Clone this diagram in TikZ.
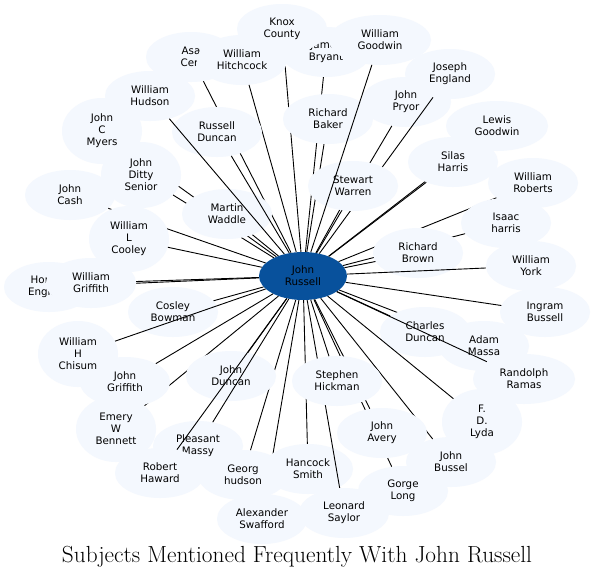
\documentclass[tikz,border=0pt]{standalone}
\usepackage{fontspec}
\setsansfont{DejaVu Sans}
\usetikzlibrary{shapes.geometric}
\definecolor{subjfill}{RGB}{244,248,254}
\definecolor{hubfill}{RGB}{8,81,156}
\tikzset{
  subj/.style={ellipse, fill=subjfill, inner sep=0pt, minimum width=90, minimum height=50,
    align=center, font=\sffamily\fontsize{10.3}{12}\selectfont},
  tall/.style={minimum width=80, minimum height=66},
  wide/.style={minimum width=102},
  hub/.style={subj, fill=hubfill, minimum width=88, minimum height=48},
  link/.style={line width=0.9pt}
}
\begin{document}
\begin{tikzpicture}[x=1pt,y=-1pt]
	\useasboundingbox[fill=white] (0,0) rectangle (594,581);
	\node[hub] (jr) at (303,276) {John\\Russell};
	\node[subj] (asa) at (191,57) {Asa\\Cerl}; \draw[link] (jr) -- (asa);
	\node[subj] (jb) at (326,52) {James\\Bryant}; \draw[link] (jr) -- (jb);
	\node[subj] (knox) at (282,29) {Knox\\County}; \draw[link] (jr) -- (knox);
	\node[subj] (whi) at (242,60) {William\\Hitchcock}; \draw[link] (jr) -- (whi);
	\node[subj] (rba) at (328,119) {Richard\\Baker}; \draw[link] (jr) -- (rba);
	\node[subj] (jp) at (406,102) {John\\Pryor}; \draw[link] (jr) -- (jp);
	\node[subj] (je) at (450,74) {Joseph\\England}; \draw[link] (jr) -- (je);
	\node[subj] (sw) at (353,186) {Stewart\\Warren}; \draw[link] (jr) -- (sw);
	\node[subj,wide] (wg) at (380,40) {William\\Goodwin}; \draw[link] (jr) -- (wg);
	\node[subj,wide] (lg) at (497,126) {Lewis\\Goodwin}; \draw[link] (jr) -- (lg);
	\node[subj] (sh) at (453,162) {Silas\\Harris}; \draw[link] (jr) -- (sh);
	\node[subj] (wr) at (533,183) {William\\Roberts}; \draw[link] (jr) -- (wr);
	\node[subj] (ih) at (506,223) {Isaac\\harris}; \draw[link] (jr) -- (ih);
	\node[subj] (rbr) at (418,253) {Richard\\Brown}; \draw[link] (jr) -- (rbr);
	\node[subj] (wy) at (531,266) {William\\York}; \draw[link] (jr) -- (wy);
	\node[subj] (ib) at (545,312) {Ingram\\Bussell}; \draw[link] (jr) -- (ib);
	\node[subj] (am) at (484,346) {Adam\\Massa}; \draw[link] (jr) -- (am);
	\node[subj] (cd) at (425,332) {Charles\\Duncan}; \draw[link] (jr) -- (cd);
	\node[subj,wide] (rr) at (524,379) {Randolph\\Ramas}; \draw[link] (jr) -- (rr);
	\node[subj,tall] (fdl) at (482,422) {F.\\D.\\Lyda}; \draw[link] (jr) -- (fdl);
	\node[subj] (jbu) at (451,462) {John\\Bussel}; \draw[link] (jr) -- (jbu);
	\node[subj] (gl) at (403,491) {Gorge\\Long}; \draw[link] (jr) -- (gl);
	\node[subj] (ja) at (382,433) {John\\Avery}; \draw[link] (jr) -- (ja);
	\node[subj] (as) at (262,519) {Alexander\\Swafford}; \draw[link] (jr) -- (as);
	\node[subj] (hs) at (308,469) {Hancock\\Smith}; \draw[link] (jr) -- (hs);
	\node[subj] (ls) at (344,513) {Leonard\\Saylor}; \draw[link] (jr) -- (ls);
	\node[subj] (shi) at (337,381) {Stephen\\Hickman}; \draw[link] (jr) -- (shi);
	\node[subj] (gh) at (243,475) {Georg\\hudson}; \draw[link] (jr) -- (gh);
	\node[subj,tall] (ewb) at (116,429) {Emery\\W\\Bennett}; \draw[link] (jr) -- (ewb);
	\node[subj] (jd) at (231,376) {John\\Duncan}; \draw[link] (jr) -- (jd);
	\node[subj] (pm) at (198,446) {Pleasant\\Massy}; \draw[link] (jr) -- (pm);
	\node[subj] (rh) at (160,473) {Robert\\Haward}; \draw[link] (jr) -- (rh);
	\node[subj] (jg) at (125,382) {John\\Griffith}; \draw[link] (jr) -- (jg);
	\node[subj] (cb) at (173,312) {Cosley\\Bowman}; \draw[link] (jr) -- (cb);
	\node[subj,tall] (whc) at (78,354) {William\\H\\Chisum}; \draw[link] (jr) -- (whc);
	\node[subj] (he) at (49,287) {Horace\\England}; \draw[link] (jr) -- (he);
	\node[subj] (wgr) at (91,283) {William\\Griffith}; \draw[link] (jr) -- (wgr);
	\node[subj] (jc) at (70,195) {John\\Cash}; \draw[link] (jr) -- (jc);
	\node[subj,tall] (wlc) at (129,239) {William\\L\\Cooley}; \draw[link] (jr) -- (wlc);
	\node[subj,tall] (jcm) at (102,131) {John\\C\\Myers}; \draw[link] (jr) -- (jcm);
	\node[subj,tall] (jds) at (141,175) {John\\Ditty\\Senior}; \draw[link] (jr) -- (jds);
	\node[subj] (mw) at (227,214) {Martin\\Waddle}; \draw[link] (jr) -- (mw);
	\node[subj] (rd) at (217,132) {Russell\\Duncan}; \draw[link] (jr) -- (rd);
	\node[subj] (wh) at (150,96) {William\\Hudson}; \draw[link] (jr) -- (wh);
	\node (title) at (297,557) {\fontsize{23.3}{26}\selectfont Subjects Mentioned Frequently With John Russell};
\end{tikzpicture}
\end{document}
